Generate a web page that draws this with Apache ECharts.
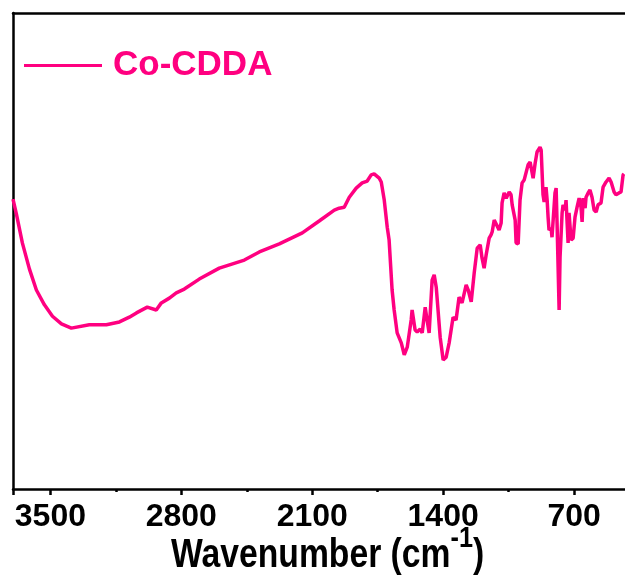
<!DOCTYPE html>
<html>
<head>
<meta charset="utf-8">
<script src="https://cdn.jsdelivr.net/npm/echarts@6/dist/echarts.min.js"></script>
<style>html,body{margin:0;padding:0;background:#fff;}#c{width:625px;height:583px;}</style>
</head>
<body>
<div id="c"></div>
<script>
// Wavenumber (cm-1)
const wavenumber = [3700,3682,3650,3612,3575,3532,3489,3441,3388,3292,3201,3131,3078,3040,2982,2934,2907,2864,2827,2784,2704,2597,2463,2383,2276,2153,2063,1982,1956,1929,1902,1865,1833,1806,1785,1769,1742,1731,1715,1699,1689,1673,1662,1646,1624,1608,1592,1571,1566,1550,1539,1523,1512,1496,1486,1475,1459,1448,1437,1416,1400,1384,1368,1347,1331,1315,1299,1277,1266,1250,1234,1218,1202,1192,1181,1170,1154,1144,1138,1127,1117,1101,1090,1085,1074,1063,1047,1037,1031,1015,1010,999,989,978,967,957,946,935,919,908,898,882,876,866,860,850,844,839,834,823,818,802,796,791,780,775,764,759,748,743,732,727,716,705,695,684,673,663,657,652,641,636,625,615,604,593,582,572,556,545,529,513,502,486,476,460,449,438,433];
// Transmittance (a.u.)
const transmittance = [60.9,57.8,51.7,46.2,41.8,38.7,36.3,34.7,33.8,34.5,34.5,35.1,36.1,37.0,38.2,37.6,39.1,40.1,41.2,42.0,44.1,46.4,48.1,49.8,51.5,53.8,56.3,58.6,59.0,59.2,61.3,63.2,64.3,64.7,66.0,66.2,65.3,64.5,60.7,55.0,52.3,41.8,37.6,32.8,30.7,28.2,29.8,35.5,37.6,33.4,33.0,33.6,32.8,38.2,35.5,32.8,43.9,45.0,42.4,31.9,27.1,27.7,30.7,36.1,35.5,40.3,39.1,42.9,41.8,39.3,45.4,50.6,51.3,48.5,46.4,49.2,52.7,53.4,54.0,56.5,56.1,54.4,55.9,60.1,62.2,61.1,62.4,61.8,59.7,56.5,51.7,51.5,60.7,64.3,64.9,64.5,68.1,68.7,65.3,68.5,70.8,71.8,71.2,61.8,60.3,63.4,60.7,57.1,54.4,54.8,52.9,62.2,63.2,55.9,37.6,48.7,58.0,59.7,58.6,60.7,51.7,58.0,52.3,52.7,57.1,59.2,61.1,59.2,56.1,61.1,59.0,61.3,62.2,62.8,61.3,58.6,58.2,59.7,60.1,63.4,64.5,65.3,64.5,62.4,61.8,62.2,62.4,66.0,66.2];
const seriesName = 'Co-CDDA';
const xTitle = 'Wavenumber (cm';
const xTitleSup = '-1';

const pink = '#ff0080';
const chart = echarts.init(document.getElementById('c'), null, {renderer: 'canvas'});
chart.setOption({
  animation: false,
  backgroundColor: '#fff',
  graphic: [{
    type: 'text', x: 171, y: 520, scaleX: 0.842, scaleY: 1,
    style: {
      text: '{a|' + xTitle + '}{b|' + xTitleSup + '}{a|)}',
      align: 'left', verticalAlign: 'top',
      rich: {
        a: {fontFamily: 'Liberation Sans', fontWeight: 'bold', fontSize: 40, fill: '#000', verticalAlign: 'bottom', lineHeight: 56},
        b: {fontFamily: 'Liberation Sans', fontWeight: 'bold', fontSize: 30, fill: '#000', verticalAlign: 'top', lineHeight: 30, padding: [4, 0, 0, 0]}
      }
    }
  }],
  legend: {
    left: 24, top: 48, padding: 0,
    itemWidth: 78, itemHeight: 3,
    icon: 'rect',
    data: [seriesName],
    textStyle: {fontFamily: 'Liberation Sans', fontWeight: 'bold', fontSize: 35, color: pink, padding: [0,0,0,6]}
  },
  grid: {left: 13, right: -80, top: 13, bottom: 94, containLabel: false, outerBoundsMode: 'none'},
  xAxis: [{
    type: 'value', inverse: true, min: 0, max: 3700, interval: 700,
    axisLine: {show: true, onZero: false, lineStyle: {color: '#000', width: 2.5}},
    axisTick: {show: true, length: 6, lineStyle: {color: '#000', width: 2.5}},
    minorTick: {show: true, splitNumber: 2, length: 3, lineStyle: {color: '#000', width: 2.5}},
    axisLabel: {fontFamily: 'Liberation Sans', fontWeight: 'bold', fontSize: 32, color: '#000', margin: 12, formatter: v => String(v)},
    splitLine: {show: false}
  }, {
    type: 'value', inverse: true, min: 0, max: 3700, position: 'top',
    axisLine: {show: true, onZero: false, lineStyle: {color: '#000', width: 2.5}},
    axisTick: {show: false}, axisLabel: {show: false}, splitLine: {show: false}
  }],
  yAxis: {
    type: 'value', min: 0, max: 100, position: 'left',
    axisLine: {show: true, onZero: false, lineStyle: {color: '#000', width: 2.5}},
    axisTick: {show: false}, axisLabel: {show: false}, splitLine: {show: false}
  },
  series: [{
    name: seriesName, type: 'line', symbol: 'none', smooth: false,
    data: wavenumber.map((w, i) => [w, transmittance[i]]),
    lineStyle: {color: pink, width: 3.5}, itemStyle: {color: pink}
  }]
});
</script>
</body>
</html>
